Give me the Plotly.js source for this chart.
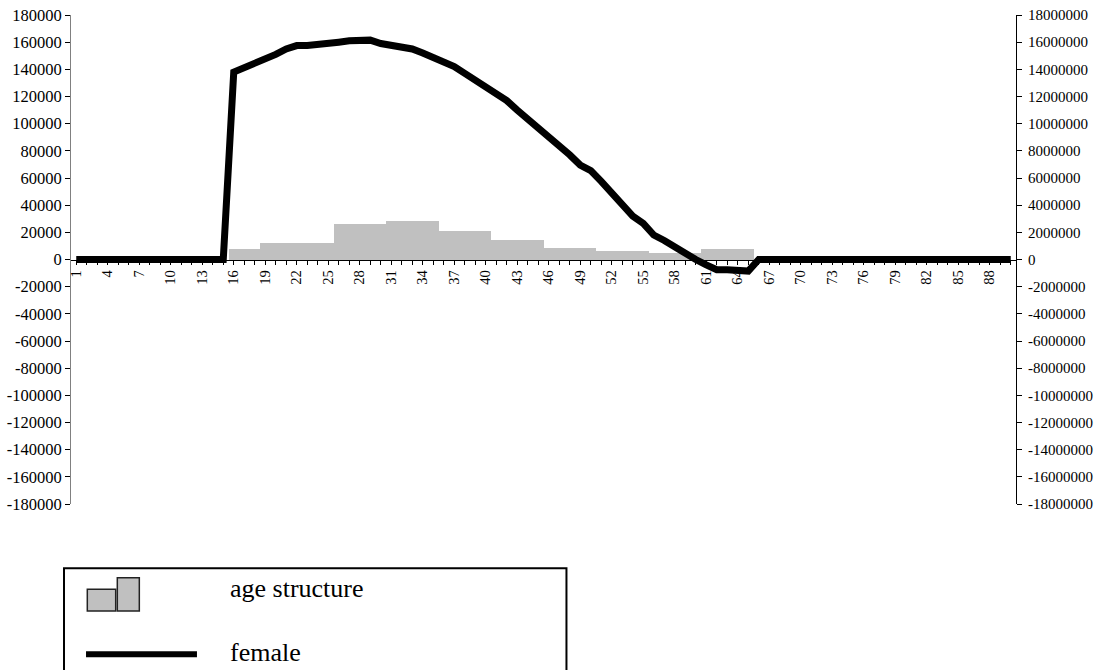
<!DOCTYPE html>
<html>
<head>
<meta charset="utf-8">
<script src="https://cdn.plot.ly/plotly-3.0.1.min.js"></script>
<style>html,body{margin:0;padding:0;background:#fff;}#chart{width:1097px;height:670px;}</style>
</head>
<body>
<div id="chart"></div>
<script>
const ages = [1,2,3,4,5,6,7,8,9,10,11,12,13,14,15,16,17,18,19,20,21,22,23,24,25,26,27,28,29,30,
  31,32,33,34,35,36,37,38,39,40,41,42,43,44,45,46,47,48,49,50,51,52,53,54,55,56,57,58,59,60,
  61,62,63,64,65,66,67,68,69,70,71,72,73,74,75,76,77,78,79,80,81,82,83,84,85,86,87,88,89,90];

const ageStructure = [0,0,0,0,0,0,0,0,0,0,0,0,0,0,0,
  800000,800000,800000,
  1220000,1220000,1220000,1220000,1220000,1220000,1220000,
  2650000,2650000,2650000,2650000,2650000,
  2870000,2870000,2870000,2870000,2870000,
  2080000,2080000,2080000,2080000,2080000,
  1420000,1420000,1420000,1420000,1420000,
  850000,850000,850000,850000,850000,
  610000,610000,610000,610000,610000,
  490000,490000,490000,490000,490000,
  810000,810000,810000,810000,810000,
  0,0,0,0,0,0,0,0,0,0,0,0,0,0,0,0,0,0,0,0,0,0,0,0,0];

const female = [0,0,0,0,0,0,0,0,0,0,0,0,0,0,0,
  138000,141000,144000,147000,151000,155000,157500,157500,158000,159000,
  160000,161000,161500,161500,159000,158000,157000,155000,152000,149000,
  145500,142000,137000,132000,128000,123000,117000,110000,103500,98000,
  91000,84000,77000,69500,65500,57500,49000,41000,32000,26500,
  18000,14000,9000,4500,0,-4000,-7500,-7500,-8000,-8500,
  0,0,0,0,0,0,0,0,0,0,0,0,0,0,0,0,0,0,0,0,0,0,0,0,0];

const leftTickVals = [180000,160000,140000,120000,100000,80000,60000,40000,20000,0,
  -20000,-40000,-60000,-80000,-100000,-120000,-140000,-160000,-180000];
const leftTickText = ['180000','160000','140000','120000','100000','80000','60000','40000','20000','0',
  '-20000','-40000','-60000','-80000','-100000','-120000','-140000','-160000','-180000'];
const rightTickVals = [18000000,16000000,14000000,12000000,10000000,8000000,6000000,4000000,2000000,0,
  -2000000,-4000000,-6000000,-8000000,-10000000,-12000000,-14000000,-16000000,-18000000];
const rightTickText = ['18000000','16000000','14000000','12000000','10000000','8000000','6000000','4000000','2000000','0',
  '-2000000','-4000000','-6000000','-8000000','-10000000','-12000000','-14000000','-16000000','-18000000'];

const legendLabels = ['age structure', 'female'];

const FONT = '"Liberation Serif", "Times New Roman", serif';

const traces = [
  {
    type: 'bar', name: legendLabels[0], x: ages, y: ageStructure,
    xaxis: 'x', yaxis: 'y',
    marker: {color: '#c0c0c0', line: {width: 0}},
    hoverinfo: 'x+y'
  },
  {
    type: 'scatter', mode: 'lines', name: legendLabels[1], x: ages, y: female,
    xaxis: 'x', yaxis: 'y2',
    line: {color: '#000000', width: 7},
    hoverinfo: 'x+y'
  }
];

const layout = {
  width: 1097, height: 670,
  margin: {l: 71, r: 81, t: 15, b: 166, pad: 0},
  paper_bgcolor: '#ffffff', plot_bgcolor: '#ffffff',
  showlegend: false,
  bargap: 0,
  font: {family: FONT, size: 15, color: '#000000'},
  xaxis: {
    type: 'linear', range: [0.5, 90.5], anchor: 'free', position: 0.5,
    tick0: 1, dtick: 3, ticks: 'outside', ticklen: 4, tickwidth: 1, tickcolor: '#000000',
    minor: {dtick: 1, tick0: 1, ticks: 'outside', ticklen: 4, tickwidth: 1, tickcolor: '#000000', showgrid: false},
    tickangle: -90, tickfont: {family: FONT, size: 14.5, color: '#000000'},
    showline: true, linecolor: '#000000', linewidth: 1,
    showgrid: false, zeroline: false, fixedrange: true
  },
  xaxis2: {
    type: 'linear', range: [0.5, 90.5], overlaying: 'x', anchor: 'free', position: 0.5,
    tick0: 1, dtick: 1, ticks: 'inside', ticklen: 4, tickwidth: 1, tickcolor: '#000000',
    showticklabels: false, showline: false, showgrid: false, zeroline: false
  },
  yaxis: {
    range: [-18000000, 18000000], side: 'right', anchor: 'x',
    tickvals: rightTickVals, ticktext: rightTickText,
    tickfont: {family: FONT, size: 15, color: '#000000'},
    ticks: 'outside', ticklen: 5, tickwidth: 1, tickcolor: '#000000', ticklabelstandoff: 3,
    showline: true, linecolor: '#000000', linewidth: 1,
    showgrid: false, zeroline: false
  },
  yaxis2: {
    range: [-180000, 180000], side: 'left', anchor: 'x', overlaying: 'y',
    tickvals: leftTickVals, ticktext: leftTickText,
    tickfont: {family: FONT, size: 16.5, color: '#000000'},
    ticks: 'outside', ticklen: 5, tickwidth: 1, tickcolor: '#000000', ticklabelstandoff: 0,
    showline: true, linecolor: '#808080', linewidth: 1,
    showgrid: false, zeroline: false
  },
  yaxis3: {
    range: [-180000, 180000], side: 'left', anchor: 'x', overlaying: 'y',
    tickvals: leftTickVals, ticks: 'inside', ticklen: 5, tickwidth: 1, tickcolor: '#000000',
    showticklabels: false, showline: false, showgrid: false, zeroline: false
  },
  yaxis4: {
    range: [-18000000, 18000000], side: 'right', anchor: 'x', overlaying: 'y',
    tickvals: rightTickVals, ticks: 'inside', ticklen: 5, tickwidth: 1, tickcolor: '#000000',
    showticklabels: false, showline: false, showgrid: false, zeroline: false
  },
  shapes: [
    {type: 'rect', xref: 'paper', yref: 'paper', x0: -0.0074, x1: 0.5243, y0: -0.1314, y1: -0.3434,
      line: {color: '#000000', width: 2}, fillcolor: 'rgba(0,0,0,0)'},
    {type: 'rect', xref: 'paper', yref: 'paper', x0: 0.01725, x1: 0.0473, y0: -0.1743, y1: -0.2187,
      line: {color: '#222222', width: 1.5}, fillcolor: '#c0c0c0'},
    {type: 'rect', xref: 'paper', yref: 'paper', x0: 0.0490, x1: 0.0723, y0: -0.1506, y1: -0.2187,
      line: {color: '#222222', width: 1.5}, fillcolor: '#c0c0c0'},
    {type: 'line', xref: 'paper', yref: 'paper', x0: 0.0159, x1: 0.1333, y0: -0.3072, y1: -0.3072,
      line: {color: '#000000', width: 6}}
  ],
  annotations: [
    {xref: 'paper', yref: 'paper', x: 0.1662, y: -0.1737, xanchor: 'left', yanchor: 'middle',
      text: legendLabels[0], showarrow: false, font: {family: FONT, size: 26, color: '#000000'}},
    {xref: 'paper', yref: 'paper', x: 0.1662, y: -0.3045, xanchor: 'left', yanchor: 'middle',
      text: legendLabels[1], showarrow: false, font: {family: FONT, size: 26, color: '#000000'}}
  ]
};

Plotly.newPlot('chart', traces, layout, {displayModeBar: false, staticPlot: true});
</script>
</body>
</html>
